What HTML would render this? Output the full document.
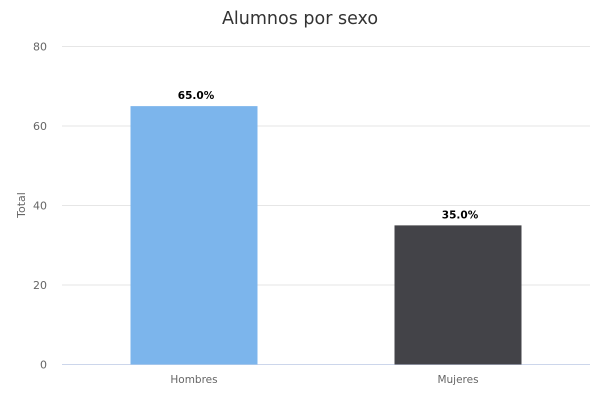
<!DOCTYPE html>
<html><head><meta charset="utf-8"><style>
body{margin:0;background:#fff;font-family:"DejaVu Sans","Liberation Sans",sans-serif;}
svg text{font-family:"DejaVu Sans","Liberation Sans",sans-serif;}
</style></head><body>
<svg id="chart" width="600" height="400">
<text x="300" y="24" text-anchor="middle" font-size="17.5" fill="#333">Alumnos por sexo</text>
<text transform="translate(25,205) rotate(-90)" text-anchor="middle" font-size="11" fill="#666">Total</text>
<g id="grid"></g><g id="bars"></g>
</svg>
<script>
const categories=["Hombres","Mujeres"];
const values=[65,35];
const labels=["65.0%","35.0%"];
const colors=["#7cb5ec","#434348"];
const yTicks=[0,20,40,60,80];
const svg=document.getElementById('chart'),grid=document.getElementById('grid'),bars=document.getElementById('bars');
const NS="http://www.w3.org/2000/svg";
const x0=62,x1=590,yBase=364.5,yTop=46.5,yMax=80;
const y=v=>yBase-(v/yMax)*(yBase-yTop);
const cw=(x1-x0)/categories.length;
function mk(t,a,p){const e=document.createElementNS(NS,t);for(const k in a)e.setAttribute(k,a[k]);p.appendChild(e);return e;}
yTicks.forEach(t=>{
 const l=mk('line',{x1:x0,x2:x1,y1:y(t),y2:y(t),stroke:t===0?'#ccd6eb':'#e6e6e6','stroke-width':1},grid);
 
 
 const tx=mk('text',{x:47,y:y(t)+4,'text-anchor':'end','font-size':11,fill:'#666'},grid);
 tx.textContent=t;
 
 
});
categories.forEach((c,i)=>{
 const cx=x0+cw*(i+0.5),bw=127;
 const r=mk('rect',{x:cx-bw/2,y:y(values[i]),width:bw,height:yBase-y(values[i]),fill:colors[i]},bars);
 
 
 const lb=mk('text',{x:cx+2,y:y(values[i])-7,'text-anchor':'middle','font-size':10.5,'font-weight':'bold',fill:'#000'},bars);
 lb.textContent=labels[i];
 
 
 const xl=mk('text',{x:cx,y:383,'text-anchor':'middle','font-size':10.5,fill:'#666'},bars);
 xl.textContent=c;
 
 
});
</script>
</body></html>
